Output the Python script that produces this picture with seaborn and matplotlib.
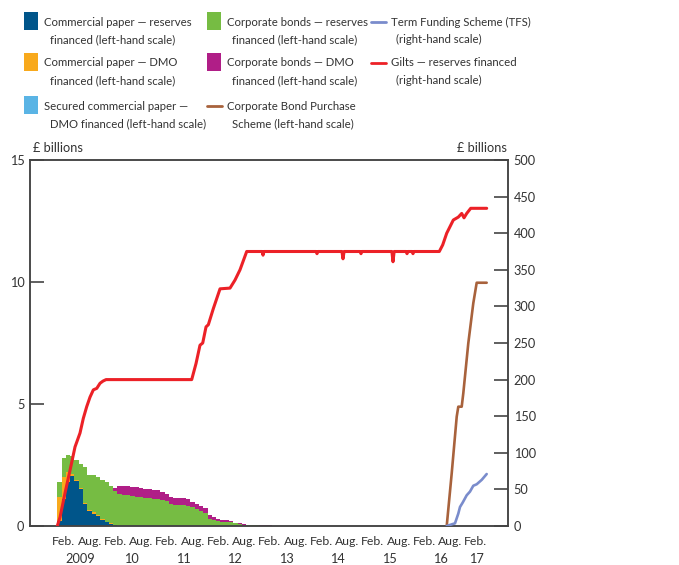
import matplotlib
matplotlib.use("Agg")
import matplotlib.pyplot as plt
from matplotlib.patches import Rectangle
from matplotlib.lines import Line2D
import numpy as np
import pandas as pd
import seaborn as sns


W, H = 679, 565
TEXT_COLOR = "#333333"
AXIS_COLOR = "#444444"
FONT_SIZE = 8.8
LEGEND_SIZE = 8.2

# Monthly holdings of private-sector assets (left-hand scale, £ billions), Feb 2009 - Jun 2013
months = pd.date_range("2009-02-01", "2013-06-01", freq="MS")
cp_reserves = [0.2, 1.1, 1.8, 2.05, 1.85, 1.5, 0.9, 0.6, 0.5, 0.4, 0.25,
               0.15, 0.08, 0.03, 0.02, 0, 0, 0, 0, 0, 0, 0, 0,
               0, 0, 0, 0, 0, 0, 0, 0, 0, 0, 0, 0,
               0, 0, 0, 0, 0, 0, 0, 0, 0, 0, 0, 0,
               0, 0, 0, 0, 0, 0]
cp_dmo = [1.0, 0.9, 0.4, 0.1, 0.05, 0.05, 0.03, 0.05, 0.08, 0.06, 0.05,
          0.03, 0.05, 0.02, 0, 0, 0, 0, 0, 0, 0, 0, 0,
          0, 0, 0, 0, 0, 0, 0, 0, 0, 0, 0, 0,
          0, 0, 0, 0, 0, 0, 0, 0, 0, 0, 0, 0,
          0, 0, 0, 0, 0, 0]
scp_dmo = [0, 0, 0, 0, 0, 0, 0, 0, 0, 0, 0,
           0, 0, 0, 0, 0, 0.02, 0, 0, 0, 0, 0, 0,
           0.02, 0.03, 0.02, 0, 0, 0, 0, 0, 0, 0, 0, 0,
           0, 0, 0, 0, 0, 0, 0, 0, 0, 0, 0, 0,
           0, 0, 0, 0, 0, 0]
cb_reserves = [0.6, 0.8, 0.7, 0.7, 0.8, 1.0, 1.47, 1.45, 1.5, 1.54, 1.6,
               1.62, 1.49, 1.38, 1.3, 1.27, 1.25, 1.22, 1.2, 1.18, 1.15, 1.13, 1.12,
               1.1, 1.02, 1.0, 0.9, 0.86, 0.86, 0.86, 0.84, 0.76, 0.68, 0.6, 0.52,
               0.3, 0.26, 0.2, 0.18, 0.18, 0.15, 0.11, 0.1, 0.06, 0.04, 0.03, 0.03,
               0.02, 0.02, 0.02, 0.02, 0.02, 0.02]
cb_dmo = [0, 0, 0, 0, 0, 0, 0, 0, 0, 0, 0,
          0, 0.03, 0.12, 0.3, 0.36, 0.37, 0.38, 0.38, 0.38, 0.38, 0.37, 0.35,
          0.36, 0.33, 0.31, 0.27, 0.27, 0.27, 0.27, 0.26, 0.22, 0.21, 0.24, 0.22,
          0.16, 0.1, 0.1, 0.07, 0.07, 0.05, 0.03, 0.04, 0.04, 0.02, 0.02, 0.02,
          0.02, 0.01, 0.01, 0, 0, 0]

# Gilts - reserves financed (right-hand scale, £ billions)
gilts_t = [2009.083, 2009.136, 2009.233, 2009.330, 2009.427, 2009.524, 2009.588,
           2009.654, 2009.718, 2009.783, 2009.849, 2009.913, 2009.971, 2010.03,
           2011.693, 2011.777, 2011.854, 2011.907, 2011.971, 2012.016, 2012.113,
           2012.243, 2012.437, 2012.534, 2012.631, 2012.761,
           2013.060, 2013.078, 2013.096, 2014.108, 2014.126, 2014.144,
           2014.610, 2014.631, 2014.652, 2014.962, 2014.980, 2014.998,
           2015.580, 2015.602, 2015.624, 2015.856, 2015.874, 2015.892,
           2015.972, 2015.990, 2016.008, 2016.501, 2016.567, 2016.645,
           2016.773, 2016.870, 2016.936, 2016.981, 2017.033, 2017.111, 2017.421]
gilts_bn = [0, 12, 45, 76, 108, 127, 147, 163, 176, 186, 188, 195, 198, 200,
            200, 222, 247, 250, 272, 275, 297, 324, 325, 336, 350, 375,
            375, 370, 375, 375, 372, 375, 375, 365, 375, 375, 372, 375,
            375, 361, 375, 375, 372, 375, 375, 372, 375, 375, 384, 400,
            418, 422, 427, 421, 427, 434, 434]

# Corporate Bond Purchase Scheme (left-hand scale)
cbps_t = [2016.645, 2016.742, 2016.839, 2016.870, 2016.936, 2016.967, 2017.064,
          2017.161, 2017.227, 2017.421]
cbps_bn = [0, 2.16, 4.48, 4.89, 4.89, 5.44, 7.49, 9.13, 9.97, 9.97]

# Term Funding Scheme (right-hand scale)
tfs_t = [2016.645, 2016.806, 2016.870, 2016.903, 2016.955, 2017.033, 2017.097,
         2017.161, 2017.227, 2017.324, 2017.421]
tfs_bn = [0, 3.7, 17, 26, 32, 42, 47, 55, 57, 63, 71]

years = list(range(2009, 2018))
year_labels = ["2009", "10", "11", "12", "13", "14", "15", "16", "17"]

COLORS = {
    "cp_reserves": "#00558a",
    "cp_dmo": "#f8a91c",
    "scp_dmo": "#5ab4e5",
    "cb_reserves": "#76bc43",
    "cb_dmo": "#b01e87",
    "cbps": "#a8623c",
    "tfs": "#7a8ccc",
    "gilts": "#ec2127",
}


def px(x, y):
    return x / W, 1 - y / H


sns.set_style("white")
plt.rcParams["font.family"] = ["Lato", "DejaVu Sans"]
plt.rcParams["font.size"] = FONT_SIZE
plt.rcParams["text.color"] = TEXT_COLOR

fig = plt.figure(figsize=(W / 100, H / 100), dpi=100)
ax = fig.add_axes([30 / W, 39 / H, 478 / W, 366 / H])
ax2 = ax.twinx()

month_x = months.year + (months.month - 1) / 12
bottom = np.zeros(len(months))
for key, values in [("cp_reserves", cp_reserves), ("cp_dmo", cp_dmo),
                    ("scp_dmo", scp_dmo), ("cb_reserves", cb_reserves),
                    ("cb_dmo", cb_dmo)]:
    values = np.array(values)
    ax.bar(month_x, values, width=1 / 12, align="edge", bottom=bottom,
           color=COLORS[key], linewidth=0, antialiased=False, zorder=2)
    bottom += values

sns.lineplot(x=cbps_t, y=cbps_bn, ax=ax, color=COLORS["cbps"], linewidth=1.9,
             estimator=None, sort=False, zorder=3)
sns.lineplot(x=tfs_t, y=tfs_bn, ax=ax2, color=COLORS["tfs"], linewidth=1.9,
             estimator=None, sort=False, zorder=3)
sns.lineplot(x=gilts_t, y=gilts_bn, ax=ax2, color=COLORS["gilts"], linewidth=2.2,
             estimator=None, sort=False, zorder=4)

ax.set_xlim(2008.553, 2017.835)
ax.set_ylim(0, 15)
ax2.set_ylim(0, 500)
ax.set_xlabel("")
ax.set_ylabel("")
ax2.set_ylabel("")

for a in (ax, ax2):
    for spine in a.spines.values():
        spine.set_visible(True)
        spine.set_color(AXIS_COLOR)
        spine.set_linewidth(1.1)

ax.set_xticks(years)
ax.set_xticks([y + 0.5 for y in years[:-1]], minor=True)
ax.tick_params(axis="x", which="major", direction="in", length=10, width=1.2,
               color="#222222", labelbottom=False)
ax.tick_params(axis="x", which="minor", direction="in", length=5, width=1.2,
               color="#222222", labelbottom=False)
ax.set_yticks([0, 5, 10, 15])
ax.tick_params(axis="y", direction="in", length=10, width=1.2, color=AXIS_COLOR,
               pad=4, labelsize=FONT_SIZE + 0.4, labelcolor=TEXT_COLOR)
ax2.set_yticks(range(0, 501, 50))
ax2.tick_params(axis="y", direction="in", length=10, width=1.2, color=AXIS_COLOR,
                pad=4, labelsize=FONT_SIZE + 0.4, labelcolor=TEXT_COLOR)

xaxis_tf = ax.get_xaxis_transform()
for year, label in zip(years, year_labels):
    halves = ["Feb."] if year == 2017 else ["Feb.", "Aug."]
    for i, half in enumerate(halves):
        ax.annotate(half, xy=(year + 0.5 * i, 0), xycoords=xaxis_tf,
                    xytext=(-0.6, -11), textcoords="offset points",
                    ha="left", va="center", fontsize=FONT_SIZE)
    centre = year + 0.2 if year == 2017 else year + 0.5
    ax.annotate(label, xy=(centre, 0), xycoords=xaxis_tf,
                xytext=(1, -23.5), textcoords="offset points",
                ha="center", va="center", fontsize=FONT_SIZE + 0.4)

fig.text(*px(33, 148), "£ billions", ha="left", va="center", fontsize=FONT_SIZE + 0.4)
fig.text(*px(507, 148), "£ billions", ha="right", va="center", fontsize=FONT_SIZE + 0.4)

# legend, three columns, two text lines per entry
legend_items = [
    ("patch", "cp_reserves", "Commercial paper — reserves", "financed (left-hand scale)"),
    ("patch", "cp_dmo", "Commercial paper — DMO", "financed (left-hand scale)"),
    ("patch", "scp_dmo", "Secured commercial paper —", "DMO financed (left-hand scale)"),
    ("patch", "cb_reserves", "Corporate bonds — reserves", "financed (left-hand scale)"),
    ("patch", "cb_dmo", "Corporate bonds — DMO", "financed (left-hand scale)"),
    ("line", "cbps", "Corporate Bond Purchase", "Scheme (left-hand scale)"),
    ("line", "tfs", "Term Funding Scheme (TFS)", "(right-hand scale)"),
    ("line", "gilts", "Gilts — reserves financed", "(right-hand scale)"),
]
col_x = [24, 207, 371]
row_y = [22, 63, 106]
for i, (kind, key, line1, line2) in enumerate(legend_items):
    col, row = divmod(i, 3)
    x0, yc = col_x[col], row_y[row]
    if kind == "patch":
        fx, fy = px(x0, yc + 8)
        fig.add_artist(Rectangle((fx, fy), 14 / W, 18 / H, transform=fig.transFigure,
                                 facecolor=COLORS[key], edgecolor="none"))
    else:
        fx0, fy0 = px(x0, yc)
        fx1, _ = px(x0 + 15, yc)
        fig.add_artist(Line2D([fx0, fx1], [fy0, fy0], transform=fig.transFigure,
                              color=COLORS[key], linewidth=2))
    fig.text(*px(x0 + 20, yc), line1, ha="left", va="center", fontsize=LEGEND_SIZE)
    fig.text(*px(x0 + 25.5, yc + 17.5), line2, ha="left", va="center",
             fontsize=LEGEND_SIZE)

fig.savefig("out.png", dpi=100)
